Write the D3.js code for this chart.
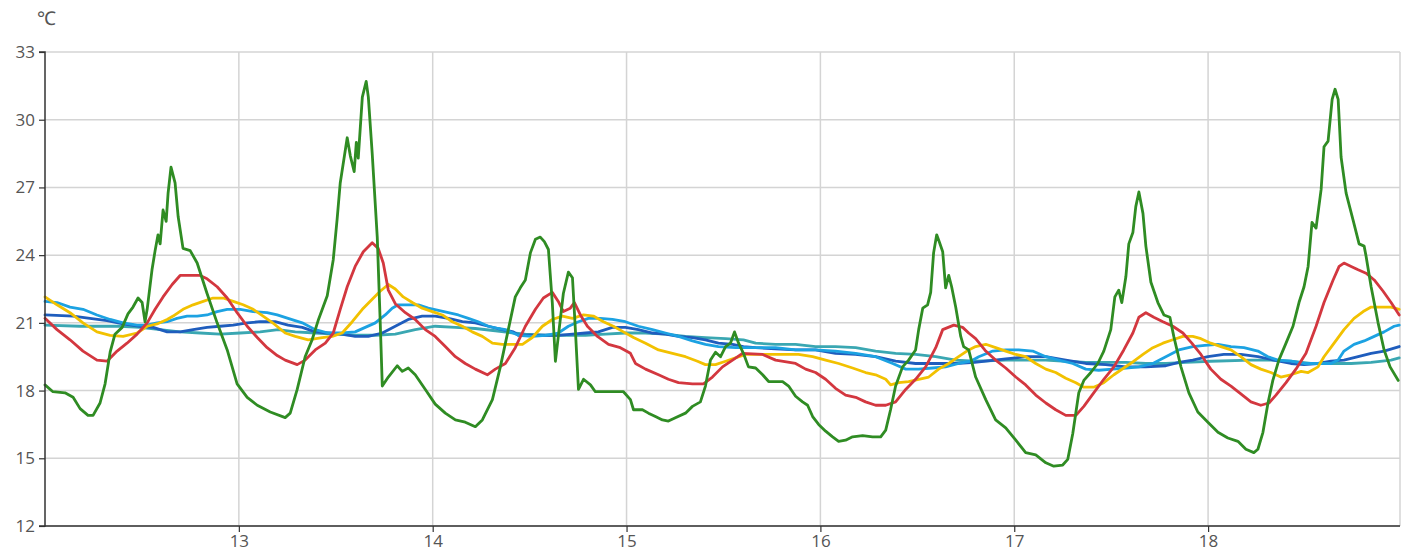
<!DOCTYPE html>
<html>
<head>
<meta charset="utf-8">
<script src="https://cdn.jsdelivr.net/npm/d3@7"></script>
<style>
  html, body { margin: 0; padding: 0; background: #fff; }
  svg { display: block; }
  .tick text { font-family: "Open Sans", "Noto Sans", sans-serif; }
</style>
</head>
<body>
<div id="chart"></div>
<script>
// ---------- data (x = day of month, y = temperature ℃) ----------
const unitLabel = "℃";
const yTicks = [12, 15, 18, 21, 24, 27, 30, 33];
const xTicks = [13, 14, 15, 16, 17, 18];
const xDomain = [12, 18.99];
const yDomain = [12, 33];

const seriesNames = ["s1", "s2", "s3", "s4", "s5", "s6"];
const seriesColors = ["#3aa7b2", "#1f5dbd", "#1ca2e2", "#f2c100", "#d3373f", "#2f8c23"];

const tealSeries = [
[12.000,20.9],[12.181,20.85],[12.387,20.85],[12.490,20.8],[12.594,20.7],[12.697,20.6],[12.800,20.55],[12.903,20.5],
[13.007,20.55],[13.110,20.6],[13.203,20.7],[13.291,20.6],[13.394,20.55],[13.498,20.5],[13.600,20.45],[13.704,20.45],
[13.807,20.5],[13.910,20.7],[14.013,20.85],[14.117,20.8],[14.220,20.75],[14.323,20.65],[14.416,20.55],[14.478,20.5],
[14.581,20.45],[14.788,20.45],[14.891,20.5],[14.994,20.55],[15.098,20.55],[15.201,20.5],[15.304,20.4],[15.407,20.35],
[15.511,20.3],[15.603,20.25],[15.666,20.1],[15.769,20.05],[15.872,20.05],[15.975,19.95],[16.078,19.95],[16.182,19.9],
[16.285,19.75],[16.388,19.65],[16.491,19.6],[16.595,19.5],[16.698,19.35],[16.796,19.3],[16.956,19.35],[17.163,19.35],
[17.266,19.3],[17.369,19.25],[17.576,19.25],[17.679,19.2],[17.782,19.2],[17.885,19.25],[18.014,19.3],[18.221,19.35],
[18.324,19.35],[18.427,19.3],[18.530,19.2],[18.738,19.2],[18.841,19.25],[18.944,19.35],[18.986,19.45]
];

const darkBlueSeries = [
[12.000,21.35],[12.145,21.3],[12.232,21.2],[12.320,21.1],[12.403,20.95],[12.490,20.85],[12.558,20.8],[12.630,20.6],
[12.697,20.6],[12.764,20.7],[12.836,20.8],[12.903,20.85],[12.971,20.9],[13.043,21.0],[13.110,21.05],[13.187,21.05],
[13.254,20.9],[13.327,20.8],[13.394,20.6],[13.461,20.55],[13.533,20.5],[13.600,20.4],[13.668,20.4],[13.740,20.55],
[13.807,20.85],[13.874,21.15],[13.946,21.3],[14.013,21.3],[14.081,21.2],[14.153,21.05],[14.220,21.0],[14.287,20.85],
[14.359,20.7],[14.416,20.6],[14.442,20.45],[14.514,20.45],[14.648,20.45],[14.721,20.5],[14.788,20.55],[14.855,20.6],
[14.927,20.8],[14.994,20.8],[15.061,20.7],[15.134,20.55],[15.201,20.5],[15.268,20.4],[15.340,20.35],[15.407,20.25],
[15.474,20.1],[15.547,20.05],[15.603,19.95],[15.666,19.9],[15.769,19.85],[15.872,19.8],[15.975,19.8],[16.078,19.65],
[16.182,19.6],[16.285,19.5],[16.388,19.3],[16.491,19.2],[16.595,19.2],[16.698,19.2],[16.796,19.25],[16.853,19.3],
[16.956,19.4],[17.059,19.5],[17.163,19.5],[17.266,19.35],[17.369,19.2],[17.472,19.15],[17.576,19.05],[17.679,19.05],
[17.782,19.1],[17.849,19.25],[17.921,19.35],[17.999,19.5],[18.081,19.6],[18.169,19.6],[18.257,19.5],[18.340,19.35],
[18.427,19.2],[18.495,19.15],[18.567,19.2],[18.634,19.3],[18.701,19.35],[18.774,19.5],[18.841,19.65],[18.908,19.75],
[18.986,19.95]
];

const lightBlueSeries = [
[12.000,21.95],[12.062,21.9],[12.129,21.7],[12.196,21.6],[12.268,21.35],[12.336,21.15],[12.403,21.0],[12.475,20.9],
[12.527,20.9],[12.578,21.0],[12.630,21.05],[12.681,21.2],[12.733,21.3],[12.785,21.3],[12.836,21.35],[12.888,21.5],
[12.940,21.6],[13.007,21.6],[13.074,21.5],[13.146,21.45],[13.198,21.35],[13.254,21.2],[13.327,21.0],[13.394,20.7],
[13.461,20.55],[13.533,20.55],[13.600,20.6],[13.652,20.8],[13.704,21.0],[13.755,21.35],[13.791,21.65],[13.822,21.8],
[13.926,21.8],[13.977,21.65],[14.029,21.55],[14.081,21.45],[14.132,21.35],[14.184,21.2],[14.235,21.05],[14.287,20.85],
[14.339,20.75],[14.375,20.7],[14.442,20.45],[14.514,20.4],[14.581,20.45],[14.648,20.55],[14.700,20.85],[14.752,21.05],
[14.803,21.2],[14.865,21.2],[14.927,21.15],[14.994,21.05],[15.061,20.85],[15.134,20.7],[15.201,20.55],[15.268,20.4],
[15.340,20.2],[15.407,20.05],[15.474,19.95],[15.562,19.9],[15.769,19.9],[15.872,19.8],[15.975,19.8],[16.078,19.75],
[16.182,19.65],[16.285,19.5],[16.373,19.2],[16.440,18.95],[16.507,18.95],[16.579,19.0],[16.646,19.05],[16.713,19.2],
[16.775,19.3],[16.817,19.5],[16.889,19.75],[16.956,19.8],[17.023,19.8],[17.095,19.75],[17.163,19.5],[17.230,19.35],
[17.302,19.2],[17.369,18.95],[17.436,18.9],[17.508,18.95],[17.576,19.0],[17.643,19.05],[17.715,19.2],[17.782,19.5],
[17.849,19.8],[17.921,19.95],[17.983,20.0],[18.051,20.05],[18.118,19.95],[18.185,19.9],[18.257,19.75],[18.309,19.5],
[18.360,19.35],[18.427,19.3],[18.495,19.2],[18.567,19.2],[18.634,19.2],[18.671,19.35],[18.701,19.75],[18.753,20.05],
[18.805,20.2],[18.857,20.4],[18.908,20.6],[18.960,20.85],[18.986,20.9]
];

const yellowSeries = [
[12.000,22.15],[12.062,21.8],[12.129,21.45],[12.196,21.0],[12.268,20.6],[12.336,20.45],[12.403,20.4],[12.475,20.55],
[12.527,20.85],[12.578,20.95],[12.630,21.15],[12.661,21.3],[12.712,21.6],[12.764,21.8],[12.816,21.95],[12.867,22.1],
[12.919,22.1],[12.971,21.95],[13.022,21.8],[13.074,21.6],[13.125,21.3],[13.182,20.95],[13.239,20.55],[13.291,20.4],
[13.358,20.25],[13.430,20.35],[13.482,20.4],[13.533,20.55],[13.585,21.05],[13.637,21.6],[13.688,22.05],[13.729,22.4],
[13.771,22.7],[13.807,22.5],[13.848,22.15],[13.895,21.9],[13.946,21.65],[13.998,21.5],[14.050,21.35],[14.101,21.05],
[14.153,20.85],[14.204,20.6],[14.256,20.4],[14.308,20.1],[14.359,20.05],[14.416,20.05],[14.463,20.05],[14.514,20.35],
[14.566,20.85],[14.617,21.15],[14.669,21.3],[14.721,21.2],[14.778,21.35],[14.829,21.3],[14.881,21.05],[14.932,20.85],
[14.984,20.6],[15.036,20.35],[15.098,20.1],[15.165,19.8],[15.237,19.65],[15.304,19.5],[15.366,19.3],[15.407,19.15],
[15.459,19.15],[15.511,19.3],[15.562,19.45],[15.614,19.6],[15.753,19.6],[15.887,19.6],[15.960,19.5],[16.027,19.35],
[16.094,19.2],[16.166,19.0],[16.233,18.8],[16.285,18.7],[16.337,18.5],[16.362,18.25],[16.404,18.35],[16.455,18.4],
[16.507,18.5],[16.559,18.6],[16.610,18.95],[16.662,19.2],[16.713,19.5],[16.765,19.8],[16.801,19.95],[16.853,20.05],
[16.904,19.9],[16.956,19.75],[17.008,19.6],[17.059,19.5],[17.111,19.2],[17.163,18.95],[17.214,18.8],[17.266,18.55],
[17.318,18.35],[17.359,18.15],[17.410,18.15],[17.462,18.35],[17.514,18.7],[17.565,19.0],[17.617,19.3],[17.664,19.6],
[17.715,19.9],[17.767,20.1],[17.818,20.25],[17.870,20.4],[17.921,20.4],[17.963,20.3],[18.014,20.1],[18.066,19.95],
[18.118,19.8],[18.169,19.5],[18.221,19.15],[18.272,18.95],[18.324,18.8],[18.375,18.6],[18.427,18.7],[18.480,18.85],
[18.516,18.8],[18.567,19.05],[18.598,19.5],[18.650,20.1],[18.701,20.7],[18.753,21.2],[18.800,21.5],[18.841,21.7],
[18.944,21.7],[18.986,21.6]
];

const redSeries = [
[12.000,21.2],[12.062,20.7],[12.129,20.25],[12.196,19.75],[12.268,19.35],[12.320,19.3],[12.372,19.75],[12.423,20.1],
[12.475,20.5],[12.527,21.0],[12.568,21.6],[12.609,22.15],[12.656,22.7],[12.697,23.1],[12.749,23.1],[12.800,23.1],
[12.836,22.95],[12.888,22.6],[12.940,22.1],[12.991,21.45],[13.043,20.85],[13.095,20.35],[13.146,19.9],[13.198,19.55],
[13.239,19.35],[13.301,19.15],[13.342,19.35],[13.394,19.8],[13.446,20.1],[13.487,20.55],[13.523,21.6],[13.559,22.6],
[13.600,23.5],[13.642,24.15],[13.688,24.55],[13.719,24.3],[13.745,23.65],[13.771,22.45],[13.807,21.85],[13.859,21.45],
[13.910,21.15],[13.962,20.7],[14.013,20.4],[14.065,19.95],[14.117,19.5],[14.168,19.2],[14.220,18.95],[14.282,18.7],
[14.323,18.95],[14.375,19.2],[14.426,19.9],[14.478,20.85],[14.530,21.6],[14.571,22.1],[14.617,22.35],[14.648,21.95],
[14.674,21.5],[14.710,21.65],[14.731,21.9],[14.762,21.35],[14.798,20.85],[14.850,20.4],[14.907,20.05],[14.968,19.9],
[15.020,19.65],[15.046,19.2],[15.098,18.95],[15.165,18.7],[15.216,18.5],[15.268,18.35],[15.340,18.3],[15.397,18.3],
[15.443,18.6],[15.495,19.05],[15.547,19.35],[15.598,19.65],[15.702,19.6],[15.769,19.35],[15.872,19.2],[15.924,18.95],
[15.975,18.8],[16.027,18.5],[16.078,18.1],[16.130,17.8],[16.182,17.7],[16.233,17.5],[16.285,17.35],[16.337,17.35],
[16.388,17.5],[16.440,18.05],[16.491,18.5],[16.543,19.05],[16.595,19.9],[16.631,20.7],[16.688,20.9],[16.734,20.8],
[16.765,20.55],[16.801,20.3],[16.853,19.75],[16.904,19.35],[16.956,19.0],[17.008,18.6],[17.059,18.25],[17.111,17.8],
[17.163,17.45],[17.214,17.15],[17.266,16.9],[17.318,16.9],[17.359,17.3],[17.410,17.9],[17.462,18.5],[17.514,19.05],
[17.565,19.8],[17.612,20.55],[17.643,21.25],[17.679,21.45],[17.720,21.25],[17.767,21.05],[17.818,20.85],[17.870,20.55],
[17.916,20.1],[17.963,19.6],[18.014,18.95],[18.066,18.5],[18.118,18.2],[18.169,17.85],[18.221,17.5],[18.272,17.35],
[18.314,17.45],[18.350,17.8],[18.402,18.35],[18.453,18.95],[18.505,19.65],[18.557,20.85],[18.598,21.9],[18.645,22.9],
[18.676,23.5],[18.701,23.65],[18.738,23.5],[18.774,23.35],[18.815,23.2],[18.857,22.9],[18.903,22.4],[18.944,21.9],
[18.986,21.35]
];

const greenSeries = [
[12.000,18.25],[12.041,17.95],[12.103,17.9],[12.145,17.7],[12.181,17.2],[12.222,16.9],[12.248,16.9],[12.284,17.45],
[12.310,18.3],[12.336,19.7],[12.361,20.5],[12.398,20.8],[12.428,21.4],[12.454,21.7],[12.480,22.1],[12.501,21.9],
[12.516,21.05],[12.527,21.6],[12.552,23.35],[12.568,24.2],[12.583,24.9],[12.594,24.5],[12.609,26.0],[12.625,25.5],
[12.635,26.75],[12.650,27.9],[12.671,27.2],[12.687,25.7],[12.712,24.3],[12.749,24.2],[12.785,23.65],[12.836,22.3],
[12.888,21.0],[12.940,19.8],[12.991,18.3],[13.043,17.7],[13.095,17.35],[13.162,17.05],[13.239,16.8],[13.265,17.0],
[13.301,18.05],[13.342,19.5],[13.378,20.25],[13.409,21.1],[13.456,22.2],[13.487,23.8],[13.507,25.6],[13.523,27.2],
[13.559,29.2],[13.575,28.4],[13.595,27.7],[13.606,29.0],[13.616,28.3],[13.637,31.0],[13.657,31.7],[13.668,31.0],
[13.688,28.5],[13.714,24.8],[13.729,21.1],[13.740,18.2],[13.771,18.6],[13.817,19.1],[13.843,18.85],[13.874,19.0],
[13.910,18.7],[13.962,18.05],[14.013,17.4],[14.065,17.0],[14.117,16.7],[14.168,16.6],[14.220,16.4],[14.256,16.7],
[14.308,17.6],[14.349,19.05],[14.390,20.7],[14.426,22.15],[14.452,22.55],[14.478,22.9],[14.504,24.1],[14.530,24.7],
[14.555,24.8],[14.576,24.6],[14.597,24.25],[14.617,21.9],[14.633,19.3],[14.648,20.4],[14.674,22.3],[14.700,23.25],
[14.721,23.0],[14.736,20.7],[14.752,18.05],[14.778,18.5],[14.814,18.25],[14.839,17.95],[14.984,17.95],[15.020,17.6],
[15.036,17.15],[15.082,17.15],[15.113,17.0],[15.149,16.85],[15.185,16.7],[15.216,16.65],[15.252,16.8],[15.304,17.0],
[15.340,17.3],[15.381,17.5],[15.407,18.2],[15.433,19.35],[15.459,19.7],[15.485,19.5],[15.511,19.95],[15.536,20.1],
[15.557,20.6],[15.578,20.1],[15.603,19.65],[15.629,19.05],[15.666,19.0],[15.702,18.7],[15.733,18.4],[15.805,18.4],
[15.836,18.2],[15.872,17.75],[15.908,17.5],[15.934,17.35],[15.960,16.85],[15.991,16.5],[16.027,16.2],[16.063,15.95],
[16.094,15.75],[16.130,15.8],[16.166,15.95],[16.218,16.0],[16.269,15.95],[16.311,15.95],[16.337,16.25],[16.362,17.15],
[16.388,18.2],[16.424,19.05],[16.455,19.35],[16.491,19.8],[16.507,20.7],[16.528,21.65],[16.553,21.8],[16.569,22.35],
[16.584,24.1],[16.600,24.9],[16.615,24.55],[16.631,24.15],[16.646,22.55],[16.662,23.1],[16.677,22.6],[16.698,21.7],
[16.724,20.4],[16.739,19.95],[16.765,19.8],[16.801,18.6],[16.853,17.6],[16.904,16.7],[16.956,16.35],[17.008,15.8],
[17.059,15.25],[17.111,15.15],[17.163,14.8],[17.204,14.65],[17.250,14.7],[17.276,14.95],[17.302,16.1],[17.333,17.9],
[17.359,18.45],[17.395,18.8],[17.431,19.2],[17.462,19.75],[17.498,20.7],[17.519,22.15],[17.539,22.45],[17.555,21.9],
[17.576,23.05],[17.591,24.5],[17.612,25.0],[17.627,26.15],[17.643,26.8],[17.664,25.85],[17.679,24.4],[17.705,22.8],
[17.741,21.9],[17.772,21.35],[17.803,21.25],[17.823,20.4],[17.860,19.05],[17.901,17.9],[17.947,17.05],[17.999,16.6],
[18.051,16.15],[18.102,15.9],[18.154,15.75],[18.195,15.4],[18.236,15.25],[18.257,15.4],[18.283,16.15],[18.309,17.45],
[18.334,18.45],[18.365,19.35],[18.402,20.1],[18.438,20.85],[18.469,21.9],[18.495,22.6],[18.516,23.5],[18.536,25.45],
[18.557,25.2],[18.583,26.9],[18.598,28.8],[18.619,29.05],[18.640,30.9],[18.655,31.35],[18.671,30.9],[18.686,28.35],
[18.712,26.75],[18.748,25.55],[18.779,24.5],[18.805,24.4],[18.815,23.95],[18.841,22.6],[18.877,21.0],[18.908,19.8],
[18.939,19.05],[18.981,18.45]
];

const allSeries = [tealSeries, darkBlueSeries, lightBlueSeries, yellowSeries, redSeries, greenSeries];

// ---------- layout ----------
const W = 1406, H = 558;
const margin = { left: 45, right: 6, top: 52, bottom: 32 };

const svg = d3.select("#chart").append("svg")
  .attr("width", W).attr("height", H);

const x = d3.scaleLinear().domain(xDomain).range([margin.left, W - margin.right]);
const y = d3.scaleLinear().domain(yDomain).range([H - margin.bottom, margin.top]);

const gridColor = "#d4d4d4";
const axisColor = "#333";
const labelColor = "#555";

// grid lines
svg.append("g").selectAll("line.h").data(yTicks).join("line")
  .attr("x1", x.range()[0]).attr("x2", x.range()[1])
  .attr("y1", d => y(d)).attr("y2", d => y(d))
  .attr("stroke", gridColor).attr("stroke-width", 1.5);

svg.append("g").selectAll("line.v").data(xTicks).join("line")
  .attr("x1", d => x(d)).attr("x2", d => x(d))
  .attr("y1", y.range()[0]).attr("y2", y.range()[1])
  .attr("stroke", gridColor).attr("stroke-width", 1.5);

// right border
svg.append("line")
  .attr("x1", x.range()[1]).attr("x2", x.range()[1])
  .attr("y1", y.range()[0]).attr("y2", y.range()[1])
  .attr("stroke", gridColor).attr("stroke-width", 1.5);

// lines
const line = d3.line().x(d => x(d[0])).y(d => y(d[1])).curve(d3.curveLinear);

svg.append("g").selectAll("path").data(allSeries).join("path")
  .attr("d", d => line(d))
  .attr("fill", "none")
  .attr("stroke", (d, i) => seriesColors[i])
  .attr("stroke-width", 2.8)
  .attr("stroke-linejoin", "round")
  .attr("stroke-linecap", "round");

// axes
const yAxis = d3.axisLeft(y).tickValues(yTicks).tickSize(6).tickPadding(4).tickFormat(d3.format("d"));
const xAxis = d3.axisBottom(x).tickValues(xTicks).tickSize(6).tickPadding(3).tickFormat(d3.format("d"));

const gy = svg.append("g").attr("transform", `translate(${margin.left},0)`).call(yAxis);
const gx = svg.append("g").attr("transform", `translate(0,${H - margin.bottom})`).call(xAxis);

[gx, gy].forEach(g => {
  g.select(".domain").attr("stroke", axisColor).attr("stroke-width", 1.5);
  g.selectAll(".tick line").attr("stroke", axisColor).attr("stroke-width", 1.2);
  g.selectAll(".tick text").attr("fill", labelColor).attr("font-size", 17);
});
gy.select(".domain").attr("d", `M-6,${y.range()[0]}H0V${y.range()[1]}H-6`);
gx.select(".domain").attr("d", `M${x.range()[0]},0H${x.range()[1]}`);

// unit label
svg.append("text")
  .attr("x", 37).attr("y", 25)
  .attr("font-family", "'Open Sans', 'Noto Sans', sans-serif")
  .attr("font-size", 19)
  .attr("fill", labelColor)
  .text(unitLabel);
</script>
</body>
</html>
